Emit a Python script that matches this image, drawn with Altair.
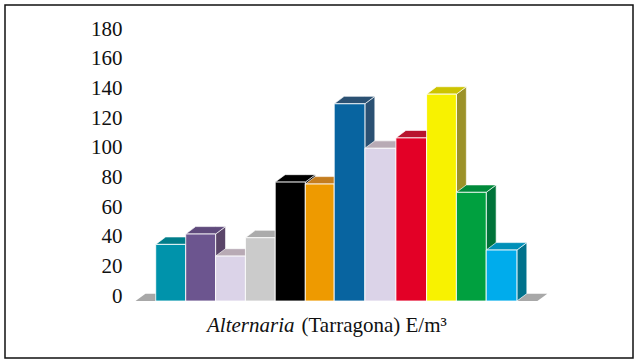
import altair as alt
import pandas as pd

# Bar heights, left to right, with the colours of their three visible faces
values = [38.2, 45.2, 30.3, 42.7, 80.2, 78.9, 133, 103, 110, 139.5, 73.3, 34.4]
bar_edges = [0, 0.997, 1.99, 2.98, 3.97, 4.97, 5.93, 6.95, 7.98, 9.0, 9.99, 10.98, 12.0]
front_colors = ["#0093ab", "#6c558f", "#dbd3e8", "#cbcbcb", "#000000", "#ee9a00",
                "#0864a0", "#dbd3e8", "#e30026", "#f8f200", "#00a03f", "#00acec"]
top_colors = ["#007d8a", "#5f4a7c", "#b8aab5", "#ababab", "#000000", "#c47d1f",
              "#2b5173", "#b8aab5", "#b8142e", "#cdc400", "#008a3a", "#0090b8"]
side_colors = ["#00606e", "#5a4569", "#9c92a5", "#8f8f8f", "#000000", "#9a6410",
               "#2b5173", "#9c92a5", "#8f1024", "#9c9229", "#007339", "#00728c"]

# Empty floor slabs on either side of the row of bars
floor_starts = [-0.67, 12.0]
floor_widths = [0.67, 0.68]
floor_color = "#a8a8a8"

tick_values = [0, 20, 40, 60, 80, 100, 120, 140, 160, 180]

# Extrusion of the pseudo-3D blocks, in axis units
DEPTH_X = 0.33
DEPTH_Y = 5.0

fronts, sides, tops = [], [], []
for i, (v, fc, tc, sc) in enumerate(zip(values, front_colors, top_colors, side_colors)):
    x0, x1 = bar_edges[i], bar_edges[i + 1]
    fronts.append({"x": x0, "x2": x1, "y": v, "y2": 0, "c": fc})
    sides += [
        {"bar": i, "x": x1, "y": v, "y2": 0, "c": sc},
        {"bar": i, "x": x1 + DEPTH_X, "y": v + DEPTH_Y, "y2": DEPTH_Y, "c": sc},
    ]
    tops += [
        {"bar": i, "x": x0, "y": v, "y2": v, "c": tc},
        {"bar": i, "x": x0 + DEPTH_X, "y": v + DEPTH_Y, "y2": v, "c": tc},
        {"bar": i, "x": x1, "y": v + DEPTH_Y, "y2": v, "c": tc},
        {"bar": i, "x": x1 + DEPTH_X, "y": v + DEPTH_Y, "y2": v + DEPTH_Y, "c": tc},
    ]

floors = []
for j, (s, w) in enumerate(zip(floor_starts, floor_widths)):
    floors += [
        {"bar": 100 + j, "x": s, "y": 0, "y2": 0, "c": floor_color},
        {"bar": 100 + j, "x": s + DEPTH_X, "y": DEPTH_Y, "y2": 0, "c": floor_color},
        {"bar": 100 + j, "x": s + w, "y": DEPTH_Y, "y2": 0, "c": floor_color},
        {"bar": 100 + j, "x": s + w + DEPTH_X, "y": DEPTH_Y, "y2": DEPTH_Y, "c": floor_color},
    ]

x_scale = alt.Scale(domain=[-5.007, 15.857], nice=False, zero=False)
y_scale = alt.Scale(domain=[-38.4, 199.6], nice=False, zero=False)
x_enc = alt.X("x:Q", scale=x_scale, axis=None)
y_axis = alt.Axis(
    values=tick_values, title=None, grid=False, domain=False, ticks=False,
    labelFont="Liberation Serif", labelFontSize=21, labelColor="#111111",
    labelOffset=-5, labelPadding=0, offset=-117, labelFlush=False, labelOverlap=False,
)
y_enc = alt.Y("y:Q", scale=y_scale, axis=y_axis)
color_enc = alt.Color("c:N", scale=None, legend=None)

floor_layer = alt.Chart(pd.DataFrame(floors)).mark_area(interpolate="linear").encode(
    x=x_enc, y=y_enc, y2="y2:Q", color=color_enc, detail="bar:N",
)
side_layer = alt.Chart(pd.DataFrame(sides)).mark_area(
    stroke="#ffffff", strokeWidth=0.8, strokeOpacity=0.8
).encode(
    x=x_enc, y=y_enc, y2="y2:Q", color=color_enc, detail="bar:N",
)
top_layer = alt.Chart(pd.DataFrame(tops)).mark_area(
    stroke="#ffffff", strokeWidth=0.8, strokeOpacity=0.8
).encode(
    x=x_enc, y=y_enc, y2="y2:Q", color=color_enc, detail="bar:N",
)
front_layer = alt.Chart(pd.DataFrame(fronts)).mark_bar(
    stroke="#ffffff", strokeWidth=1, strokeOpacity=0.85
).encode(
    x=x_enc, x2="x2:Q", y=y_enc, y2="y2:Q", color=color_enc,
)

# Caption: italic genus name followed by the upright remainder
caption_data = pd.DataFrame({"a": [0]})
caption_italic = alt.Chart(caption_data).mark_text(
    text="Alternaria", font="Liberation Serif", fontStyle="italic", fontSize=21,
    align="left", baseline="alphabetic", color="#111111",
).encode(x=alt.value(202), y=alt.value(327))
caption_roman = alt.Chart(caption_data).mark_text(
    text="(Tarragona) E/m³", font="Liberation Serif", fontSize=21,
    align="left", baseline="alphabetic", color="#111111",
).encode(x=alt.value(296.5), y=alt.value(327))

chart = alt.layer(
    floor_layer, side_layer, top_layer, front_layer, caption_italic, caption_roman
).properties(
    width=628, height=353, autosize=alt.AutoSizeParams(type="none"),
    padding={"left": 5, "top": 5, "right": 4, "bottom": 3},
    background="#ffffff",
).configure_view(stroke="#111111", strokeWidth=1.5, fill="#ffffff")

chart.save("out.html", embed_options={"renderer": "svg", "actions": False})
